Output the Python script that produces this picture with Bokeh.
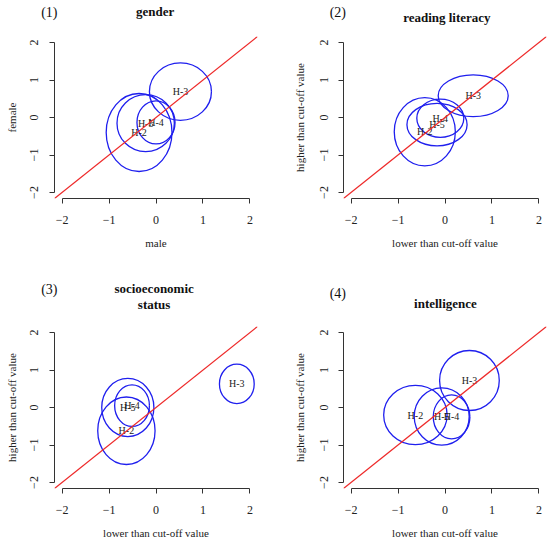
from bokeh.plotting import figure
from bokeh.models import Range1d, FixedTicker, Slope, CustomJSTickFormatter, ColumnDataSource
from bokeh.layouts import column, row
from bokeh.core.properties import value
from bokeh.embed import file_html
from bokeh.resources import INLINE

# ---------------- data ----------------
HYP = ["H-2", "H-3", "H-4", "H-5"]
TICKS = [-2, -1, 0, 1, 2]

# (1) gender
gender_x = [-0.36, 0.52, 0.00, -0.22]
gender_y = [-0.40, 0.69, -0.13, -0.15]
gender_w = [1.40, 1.32, 0.81, 1.22]
gender_h = [2.08, 1.53, 1.15, 1.52]

# (2) reading literacy
reading_x = [-0.43, 0.60, -0.10, -0.17]
reading_y = [-0.38, 0.58, -0.02, -0.19]
reading_w = [1.30, 1.49, 1.00, 1.28]
reading_h = [1.82, 1.11, 1.02, 1.13]

# (3) socioeconomic status
ses_x = [-0.63, 1.72, -0.51, -0.60]
ses_y = [-0.62, 0.63, 0.05, 0.00]
ses_w = [1.22, 0.74, 0.74, 1.11]
ses_h = [1.80, 1.05, 1.11, 1.55]

# (4) intelligence
intel_x = [-0.63, 0.52, 0.14, -0.07]
intel_y = [-0.20, 0.72, -0.25, -0.24]
intel_w = [1.35, 1.27, 0.78, 1.17]
intel_h = [1.58, 1.60, 1.17, 1.53]

SERIF = "Liberation Serif"
LIM = 2.16
FRAME_W = 203
FRAME_H = 162


def header(width, height, bl, items):
    k = (2 * LIM) / FRAME_W
    h = figure(width=width, height=height, output_backend="svg", toolbar_location=None,
               x_range=Range1d(-LIM - bl * k, -LIM + (width - bl) * k),
               y_range=Range1d(height, 0), min_border=0,
               x_axis_type=None, y_axis_type=None)
    h.outline_line_color = None
    h.xgrid.visible = False
    h.ygrid.visible = False
    for text, x, y, size, style in items:
        h.text(x=[x], y=[y], text=[text], text_font=value(SERIF), text_font_size=size,
               text_font_style=style, text_align="center", text_baseline="middle",
               text_color="#111111")
    return h


def make_panel(xlabel, ylabel, xs, ys, ws, hs, width, height, bl, br, bb, lab_so, axlab_so):
    p = figure(width=width, height=height, output_backend="svg", toolbar_location=None,
               x_range=Range1d(-LIM, LIM), y_range=Range1d(-LIM, LIM),
               min_border_left=bl, min_border_right=br,
               min_border_top=0, min_border_bottom=bb)
    p.outline_line_color = None
    p.xgrid.visible = False
    p.ygrid.visible = False

    fmt = CustomJSTickFormatter(code="return tick < 0 ? '\u2212' + Math.abs(tick) : String(tick);")
    for ax in (p.xaxis[0], p.yaxis[0]):
        ax.ticker = FixedTicker(ticks=TICKS)
        ax.bounds = (-2, 2)
        ax.formatter = fmt
        ax.axis_line_color = "#333333"
        ax.major_tick_line_color = "#333333"
        ax.minor_tick_line_color = None
        ax.major_tick_in = 0
        ax.major_tick_out = 5
        ax.major_label_text_font = SERIF
        ax.major_label_text_font_size = "12px"
        ax.major_label_text_color = "#222222"
        ax.axis_label_text_font = SERIF
        ax.axis_label_text_font_size = "11px"
        ax.axis_label_text_font_style = "normal"
        ax.axis_label_text_color = "#222222"
    p.xaxis.axis_label = xlabel
    p.yaxis.axis_label = ylabel
    p.xaxis.major_label_standoff = 12
    p.xaxis.axis_label_standoff = 10
    p.yaxis.major_label_standoff = lab_so
    p.yaxis.axis_label_standoff = axlab_so
    p.yaxis.major_label_orientation = "vertical"

    p.add_layout(Slope(gradient=1, y_intercept=0, line_color="#ee2a2a", line_width=1.2))

    src = ColumnDataSource(dict(x=xs, y=ys, w=ws, h=hs, label=HYP))
    p.ellipse(x="x", y="y", width="w", height="h", source=src,
              fill_color=None, line_color="#1f1fee", line_width=1.3)
    p.text(x="x", y="y", text="label", source=src, text_font=value(SERIF),
           text_font_size="10px", text_align="center", text_baseline="middle",
           text_color="#1a1a1a")
    return p


XL = "lower than cut-off value"
YL = "higher than cut-off value"

h1 = header(275, 36, 54, [("(1)", -2.27, 11.7, "14px", "normal"),
                          ("gender", -0.02, 10.5, "13px", "bold")])
h2 = header(275, 36, 68, [("(2)", -2.28, 11.7, "14px", "normal"),
                          ("reading literacy", 0.04, 16.7, "13px", "bold")])
h3 = header(275, 55, 54, [("(3)", -2.27, 18.3, "14px", "normal"),
                          ("socioeconomic", -0.04, 16.7, "13px", "bold"),
                          ("status", -0.04, 33.3, "13px", "bold")])
h4 = header(275, 55, 68, [("(4)", -2.28, 21.7, "14px", "normal"),
                          ("intelligence", 0.01, 31.7, "13px", "bold")])

p1 = make_panel("male", "female", gender_x, gender_y, gender_w, gender_h,
                275, 235, 54, 18, 73, 12, 9)
p2 = make_panel(XL, YL, reading_x, reading_y, reading_w, reading_h,
                275, 235, 68, 4, 73, 11, 11)
p3 = make_panel(XL, YL, ses_x, ses_y, ses_w, ses_h,
                275, 217, 54, 18, 55, 12, 9)
p4 = make_panel(XL, YL, intel_x, intel_y, intel_w, intel_h,
                275, 217, 68, 4, 55, 11, 11)

layout = column(row(h1, h2), row(p1, p2), row(h3, h4), row(p3, p4))
open("out.html", "w").write(file_html(layout, INLINE))
